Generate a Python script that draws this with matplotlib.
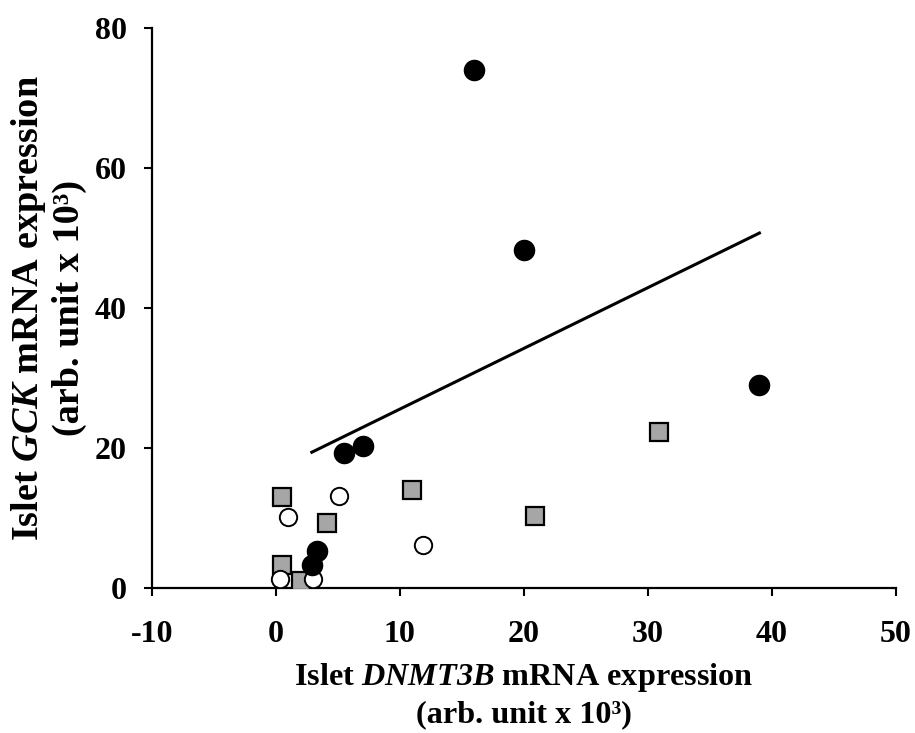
import numpy as np
import matplotlib.pyplot as plt

plt.rcParams['font.family'] = 'Liberation Serif'
plt.rcParams['font.weight'] = 'bold'
plt.rcParams['axes.labelweight'] = 'bold'
plt.rcParams['axes.unicode_minus'] = False
plt.rcParams['mathtext.fontset'] = 'custom'
plt.rcParams['mathtext.rm'] = 'Liberation Serif:bold:italic'
plt.rcParams['mathtext.it'] = 'Liberation Serif:bold:italic'
plt.rcParams['mathtext.bf'] = 'Liberation Serif:bold:italic'

# black circles (group used for the fit)
black_x = [16, 20, 39, 5.5, 7, 3.3, 2.9]
black_y = [74, 48.2, 29, 19.3, 20.2, 5.3, 3.3]

# grey squares
grey_x = [0.5, 4.1, 11.0, 0.5, 2.0, 20.9, 30.9]
grey_y = [13.0, 9.2, 14.0, 3.3, 1.0, 10.2, 22.3]

# open circles
open_x = [5.1, 1.0, 11.9, 0.3, 3.0]
open_y = [13.1, 10.1, 6.1, 1.2, 1.2]

fig = plt.figure(figsize=(9.15, 7.33), dpi=100)
ax = fig.add_axes([0.166, 0.198, 0.813, 0.764])

ax.plot(grey_x, grey_y, ls='none', marker='s', ms=13, mfc='#a6a6a6',
        mec='black', mew=1.6, zorder=3)
ax.plot(open_x, open_y, ls='none', marker='o', ms=12.5, mfc='white',
        mec='black', mew=1.4, zorder=4)
ax.plot(black_x, black_y, ls='none', marker='o', ms=14.5, mfc='black',
        mec='black', zorder=5)

# regression line through the black circles
slope, icpt = np.polyfit(black_x, black_y, 1)
fx = np.array([min(black_x), max(black_x)])
ax.plot(fx, slope * fx + icpt, color='black', lw=2.2, zorder=2)

ax.set_xlim(-10, 50)
ax.set_ylim(0, 80)
ax.set_xticks(range(-10, 51, 10))
ax.set_yticks(range(0, 81, 20))
ax.tick_params(direction='out', length=6, width=1.5, labelsize=23)
ax.tick_params(axis='x', pad=17)
ax.tick_params(axis='y', pad=12)
for s in ['top', 'right']:
    ax.spines[s].set_visible(False)
for s in ['left', 'bottom']:
    ax.spines[s].set_linewidth(1.6)

ax.set_xlabel('Islet $DNMT3B$ mRNA expression\n(arb. unit x 10³)',
              fontsize=23.2, labelpad=9, linespacing=1.25)
ax.set_ylabel('Islet $GCK$ mRNA expression\n(arb. unit x 10³)',
              fontsize=27.5, labelpad=6, linespacing=1.13)

fig.savefig('out.png', dpi=100)
